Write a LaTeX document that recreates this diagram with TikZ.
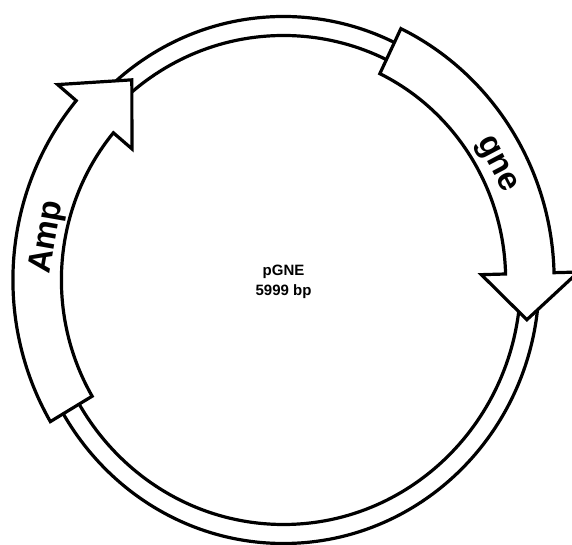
\documentclass[tikz,border=0pt]{standalone}
\usepackage{fontspec}
\setmainfont{Liberation Sans}

\begin{document}
\begin{tikzpicture}[
        x=0.97pt, y=1pt,
        ring/.style={draw, line width=3.2pt},
        feat/.style={draw, fill=white, line width=3.2pt, line join=miter},
        lbl/.style={font=\bfseries\fontsize{33}{38}\selectfont, inner sep=0pt},
        mid/.style={font=\bfseries\fontsize{15}{20}\selectfont, align=center, inner sep=0pt}
    ]
        \useasboundingbox (-292.3,-265) rectangle (297.4,280);

        \draw[ring] (0,0) circle[radius=263.5];
        \draw[ring] (0,0) circle[radius=244.5];

        \draw[feat] (64.3:279) arc[start angle=64.3, end angle=1.5, radius=279] -- (1.5:304) -- (-9:254) -- (1.5:204) -- (1.5:229) arc[start angle=1.5, end angle=64.3, radius=229] -- cycle;
        \draw[feat] (210.5:279) arc[start angle=210.5, end angle=140, radius=279] -- (140:304) -- (128:254) -- (140:204) -- (140:229) arc[start angle=140, end angle=210.5, radius=229] -- cycle;

        \node[mid] (pgne) at (0,-2) {pGNE\\5999 bp};
        \node[lbl, rotate=80] (amp) at (170:247) {Amp};
        \node[lbl, rotate=-62.3] (gne) at (27.7:247) {gne};
\end{tikzpicture}
\end{document}
